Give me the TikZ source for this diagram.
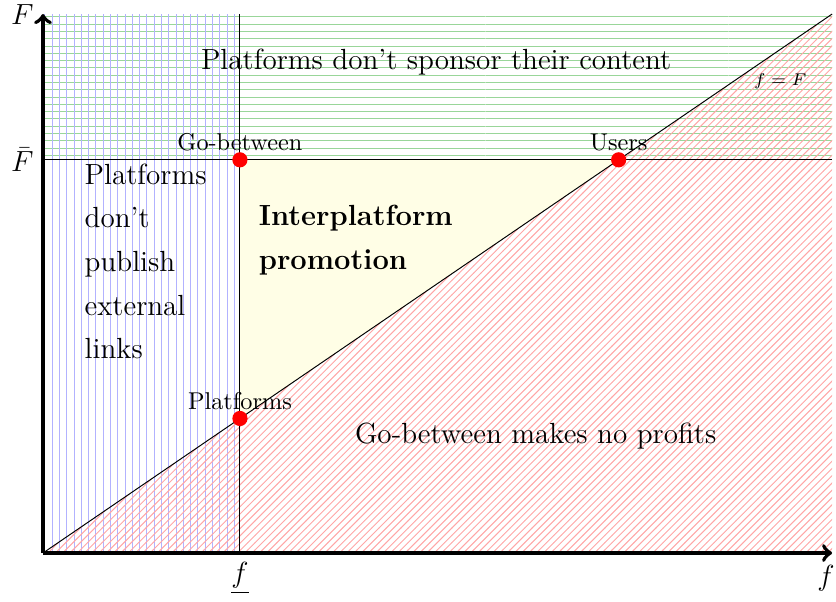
\documentclass[tikz,border=0pt]{standalone}
\usepackage{amsmath}
\usepackage{tikz}
\usetikzlibrary{patterns,calc}

\begin{document}
\begin{tikzpicture}[>=to]
        \tikzset{axis/.style={->, line width=1.6pt},
        zone/.style={font=\large, align=left},
        axlabel/.style={font=\large},
        dot/.style={circle, fill=red, inner sep=0pt, minimum size=0.22cm},
        }
        \useasboundingbox (-0.622,-0.695) rectangle (11.476,8.003);
        \coordinate (O) at (0,0);
        \coordinate (xmax) at (11.42,0);
        \coordinate (ymax) at (0,7.8);
        \coordinate (corner) at (11.42,7.8);
        \coordinate (flow) at (2.85,0);
        \coordinate (flowtop) at (2.85,7.8);
        \coordinate (Fbar) at (0,5.69);
        \coordinate (Fbarend) at (11.42,5.69);
        \coordinate (gobetween) at (2.85,5.69);
        \coordinate (users) at ($(O)!0.7295!(corner)$);
        \coordinate (platforms) at ($(O)!0.2496!(corner)$);

%% regions
        \fill[yellow!10] (gobetween) -- (users) -- (platforms) -- cycle;
        \fill[pattern=horizontal lines, pattern color=green!60!black!40] (Fbar) rectangle (corner);
        \fill[pattern=vertical lines, pattern color=blue!30] (O) rectangle (flowtop);
        \fill[pattern=north east lines, pattern color=red!35] (O) -- (xmax) -- (corner) -- cycle;

%% lines
        \draw (O) -- (corner);
        \draw (flow) -- (flowtop);
        \draw (Fbar) -- (Fbarend);
        \draw[axis] (O) -- (xmax);
        \draw[axis] (O) -- (ymax);

%% axis labels
        \node[axlabel] (Flab) at (-0.30,7.79) {$F$};
        \node[axlabel] (flab) at (11.33,-0.36) {$f$};
        \node[axlabel] (Fbarlab) at (-0.30,5.69) {$\bar{F}$};
        \node[axlabel] (flowlab) at (2.85,-0.37) {$\underline{f}$};
        \node[font=\scriptsize] (diag) at (10.67,6.83) {$f=F$};

%% points
        \node[dot] (GB) at (gobetween) {};
        \node[dot] (US) at (users) {};
        \node[dot] (PL) at (platforms) {};
        \node[above] (GBlab) at (gobetween) {Go-between};
        \node[above] (USlab) at (users) {Users};
        \node[above] (PLlab) at (platforms) {Platforms};

%% zones
        \node[zone] (nosponsor) at (5.69,7.11) {Platforms don't sponsor their content};
        \node[zone, anchor=west] (nolinks) at (0.48,4.22) {Platforms\\[4pt] don't\\[4pt] publish\\[4pt] external\\[4pt] links};
        \node[zone, anchor=west, font=\large\bfseries] (promo) at (3.0,4.53) {Interplatform\\[4pt] promotion};
        \node[zone] (noprofit) at (7.13,1.69) {Go-between makes no profits};
    \end{tikzpicture}
\end{document}
